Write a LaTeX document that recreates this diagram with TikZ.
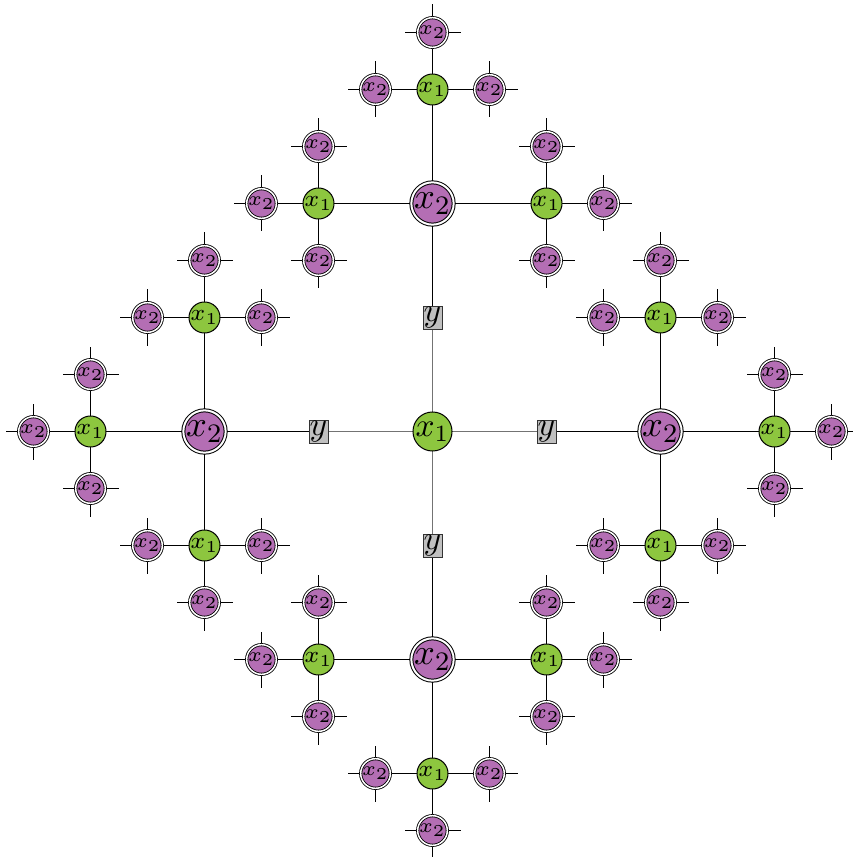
\documentclass[tikz,border=0pt]{standalone}
\usetikzlibrary{calc}
\pgfdeclarelayer{bg}
\pgfsetlayers{bg,main}
\definecolor{grn}{RGB}{141,198,63}
\definecolor{pur}{RGB}{180,110,180}
\definecolor{ybox}{RGB}{192,192,192}
\begin{document}
\begin{tikzpicture}[x=0.3pt,y=-0.3pt,
 lnk/.style={line width=0.5pt, black},
 glnk/.style={line width=0.5pt, black!55},
 cx/.style={circle, draw, fill=grn, line width=0.3pt, minimum size=10pt, inner sep=0pt, font=\fontsize{10}{10}\selectfont},
 bx/.style={circle, draw, double, double distance=0.6pt, line width=0.3pt, fill=pur, minimum size=10.2pt, inner sep=0pt, font=\fontsize{10.95}{11}\selectfont},
 mx/.style={circle, draw, fill=grn, line width=0.3pt, minimum size=7.8pt, inner sep=0pt, font=\fontsize{7}{7}\selectfont},
 sx/.style={circle, draw, double, double distance=0.45pt, line width=0.25pt, fill=pur, minimum size=6.8pt, inner sep=0pt, font=\fontsize{6}{6}\selectfont},
 yb/.style={rectangle, draw=black!80, fill=ybox, line width=0.25pt, inner sep=0.2pt, minimum width=5.4pt, minimum height=6.9pt, font=\fontsize{10}{10}\selectfont}]
\useasboundingbox (0,0) rectangle (852,857);
\clip (0,0) rectangle (852,857);
\node[cx] (C) at (432.5,431.5) {$x_1$};
\foreach \i in {0,1,2,3}{
  \pgfmathsetmacro\a{90*\i}
  \node[yb] (Y\i) at ($(C)+(\a:114)$) {$y$};
  \node[bx] (B\i) at ($(C)+(\a:228)$) {$x_2$};
  \begin{pgfonlayer}{bg}
    \draw[glnk] (C.center) -- (Y\i.center);
    \draw[lnk] (Y\i.center) -- (B\i.center);
  \end{pgfonlayer}
  \foreach \k/\kn in {-1/a,0/b,1/c}{
    \pgfmathsetmacro\b{\a+90*\k}
    \node[mx] (M\i\kn) at ($(B\i)+(\b:114)$) {$x_1$};
    \begin{pgfonlayer}{bg}
      \draw[lnk] (B\i.center) -- (M\i\kn.center);
    \end{pgfonlayer}
    \foreach \m/\mn in {-1/a,0/b,1/c}{
      \pgfmathsetmacro\c{\b+90*\m}
      \node[sx] (S\i\kn\mn) at ($(M\i\kn)+(\c:57)$) {$x_2$};
      \begin{pgfonlayer}{bg}
        \draw[lnk] (M\i\kn.center) -- (S\i\kn\mn.center);
        \foreach \t in {-1,0,1}{
          \pgfmathsetmacro\e{\c+90*\t}
          \coordinate (T\i\kn\mn) at ($(S\i\kn\mn)+(\e:28)$);
          \draw[lnk] (S\i\kn\mn.center) -- (T\i\kn\mn);
        }
      \end{pgfonlayer}
    }
  }
}
\end{tikzpicture}
\end{document}
